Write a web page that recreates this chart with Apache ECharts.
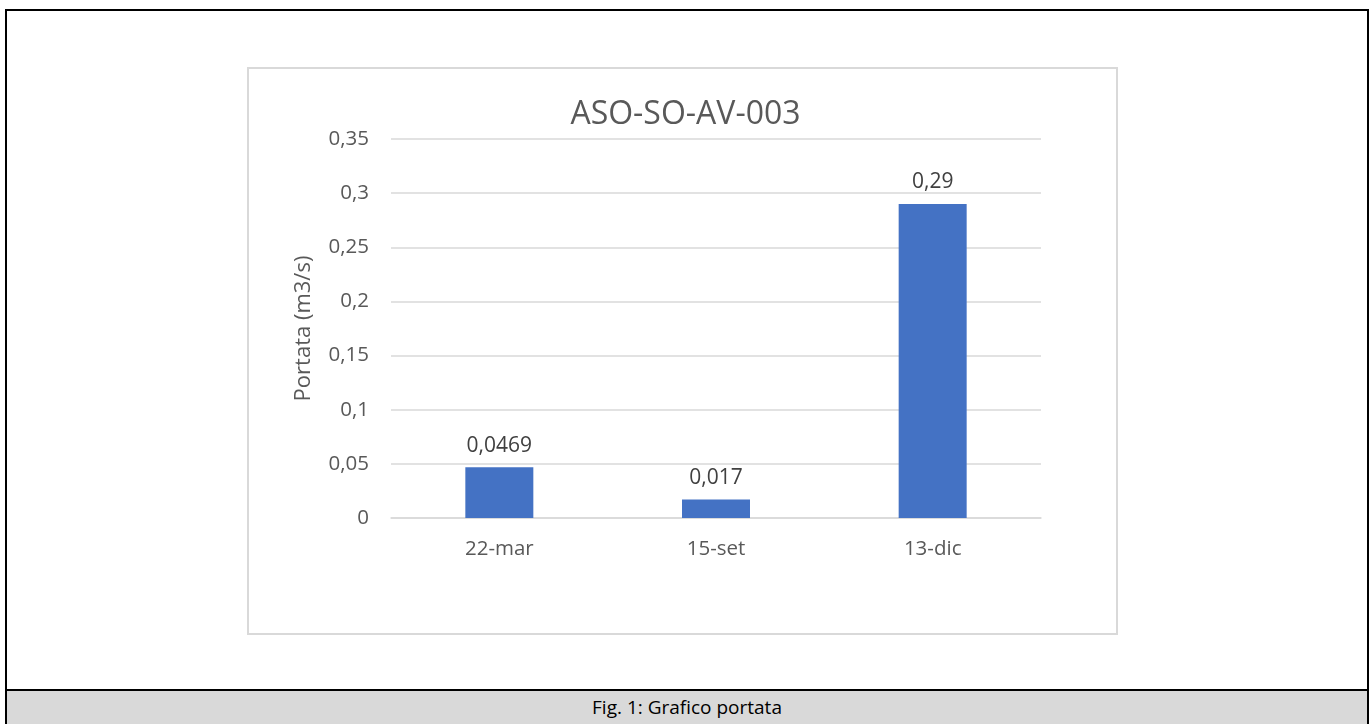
<!DOCTYPE html>
<html>
<head>
<meta charset="utf-8">
<script src="https://cdn.jsdelivr.net/npm/echarts@6/dist/echarts.min.js"></script>
<style>
  html, body { margin: 0; padding: 0; background: #fff; overflow: hidden; }
  #frame {
    position: absolute; left: 5px; top: 9px; width: 1364px; height: 730px;
    border: 2px solid #000; box-sizing: border-box;
  }
  #box {
    position: absolute; left: 247px; top: 67px; width: 871px; height: 568px;
    border: 2px solid #d9d9d9; box-sizing: border-box;
  }
  #caption {
    position: absolute; left: 5px; top: 689px; width: 1364px; height: 40px;
    border: 2px solid #000; box-sizing: border-box; background: #d9d9d9;
    font-family: "Open Sans", sans-serif; font-size: 19px; color: #000;
    text-align: center; line-height: 32px;
  }
  #chart { position: absolute; left: 0; top: 0; width: 1371px; height: 724px; }
</style>
</head>
<body>
<div id="frame"></div>
<div id="box"></div>
<div id="caption">Fig. 1: Grafico portata</div>
<div id="chart"></div>
<script>
var categories = ['22-mar', '15-set', '13-dic'];
var portata = [0.0469, 0.017, 0.29];
var yTicks = { min: 0, max: 0.35, interval: 0.05 };

function virgola(v) {
    return String(v).replace('.', ',');
}

var myChart = echarts.init(document.getElementById('chart'));
option = {
    animation: false,
    textStyle: { fontFamily: 'Open Sans' },
    title: {
        text: 'ASO-SO-AV-003',
        left: 'center',
        top: 94,
        textStyle: { fontSize: 32, fontWeight: 'normal', color: '#595959' }
    },
    grid: {
        left: 391,
        right: 330,
        top: 139,
        bottom: 206
    },
    xAxis: {
        type: 'category',
        data: categories,
        axisLine: { lineStyle: { color: '#d9d9d9', width: 1.5 } },
        axisTick: { show: false },
        axisLabel: { color: '#595959', fontSize: 20.5, margin: 21 }
    },
    yAxis: {
        type: 'value',
        min: yTicks.min,
        max: yTicks.max,
        interval: yTicks.interval,
        name: 'Portata (m3/s)',
        nameLocation: 'middle',
        nameGap: 76,
        nameTextStyle: { color: '#595959', fontSize: 22 },
        axisLine: { show: false },
        axisTick: { show: false },
        axisLabel: {
            color: '#595959', fontSize: 20.5, margin: 22,
            formatter: function (v) { return virgola(v); }
        },
        splitLine: { lineStyle: { color: '#d9d9d9', width: 1.5 } }
    },
    series: [{
        name: 'Portata',
        type: 'bar',
        data: portata,
        barWidth: 68,
        itemStyle: { color: '#4472c4' },
        label: {
            show: true,
            position: 'top',
            distance: 11,
            color: '#404040',
            fontSize: 21,
            formatter: function (p) { return virgola(p.value); }
        }
    }]
};
myChart.setOption(option);
</script>
</body>
</html>
